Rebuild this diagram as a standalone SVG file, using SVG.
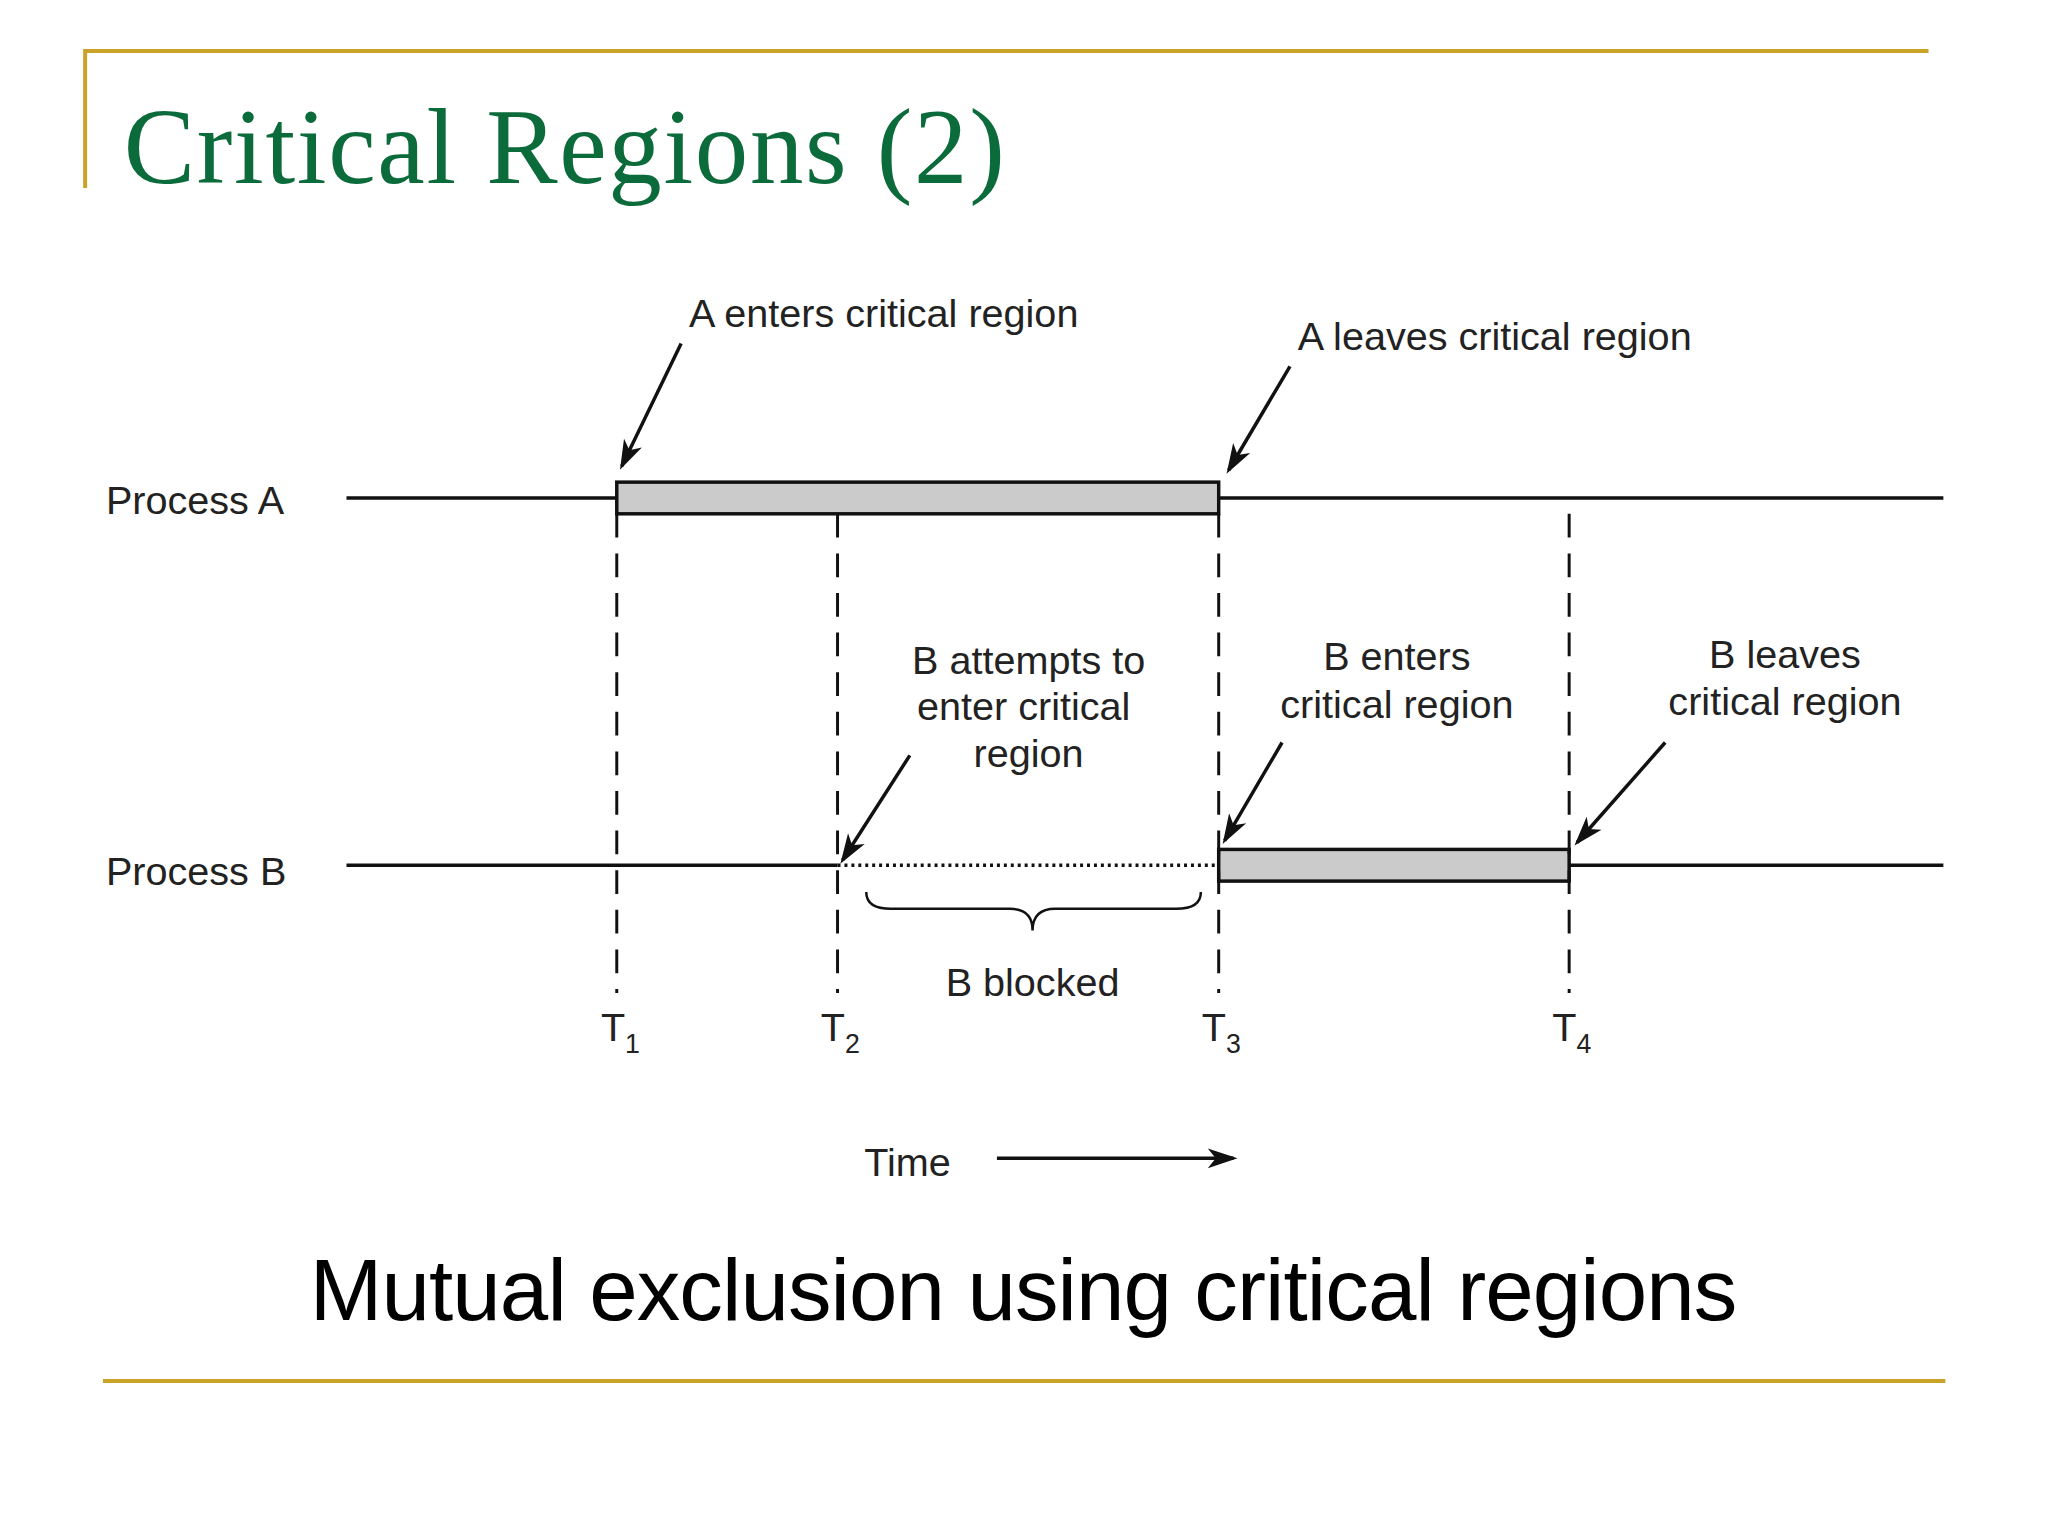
<svg xmlns="http://www.w3.org/2000/svg" width="2048" height="1536" viewBox="0 0 2048 1536">
<style>
.l{font-family:"Liberation Sans",Arial,sans-serif;font-size:40px;fill:#222}
.m{text-anchor:middle}
.ln{stroke:#111;stroke-width:3.5;fill:none}
.d{stroke:#111;stroke-width:3;stroke-dasharray:24 16;fill:none}
.bar{fill:#cbcbcb;stroke:#111;stroke-width:3.5}
.g{stroke:#c9a227;stroke-width:4;fill:none}
</style>
<defs>
<marker id="ah" markerWidth="40" markerHeight="40" refX="0" refY="0" markerUnits="userSpaceOnUse" orient="auto" style="overflow:visible">
<path d="M4,0 L-26,-10 L-18,0 L-26,10 Z" fill="#111"/>
</marker>
</defs>
<rect width="2048" height="1536" fill="#fff"/>
<g transform="scale(0.99)">
<g id="frame">
<path class="g" d="M84,51.5 H1948 M86,51 V190 M104,1395 H1965"/>
<text x="125" y="185" font-family="Liberation Serif,serif" font-size="108" fill="#0b6b3a" textLength="890">Critical Regions (2)</text>
<text x="313" y="1333" font-family="Liberation Sans,Arial,sans-serif" font-size="88" fill="#000" textLength="1442">Mutual exclusion using critical regions</text>
</g>
<g id="processA">
<text class="l" x="107" y="519">Process A</text>
<path class="ln" d="M350,503 H623 M1231,503 H1963"/>
<rect class="bar" x="623" y="487" width="608" height="32"/>
</g>
<g id="processB">
<text class="l" x="107" y="894">Process B</text>
<path class="ln" d="M350,874 H846 M1585,874 H1963"/>
<path d="M846,874 H1231" stroke="#111" stroke-width="3.5" stroke-dasharray="3 4"/>
<rect class="bar" x="1231" y="858" width="354" height="32"/>
</g>
<g id="timeline">
<path class="d" d="M623,519 V1003 M846,519 V1003 M1231,519 V1003 M1585,519 V1003"/>
<text class="l" x="607" y="1052">T<tspan font-size="27" dy="12">1</tspan></text>
<text class="l" x="829" y="1052">T<tspan font-size="27" dy="12">2</tspan></text>
<text class="l" x="1214" y="1052">T<tspan font-size="27" dy="12">3</tspan></text>
<text class="l" x="1568" y="1052">T<tspan font-size="27" dy="12">4</tspan></text>
<text class="l" x="873" y="1188">Time</text>
</g>
<g id="labels">
<text class="l" x="696" y="330">A enters critical region</text>
<text class="l" x="1311" y="354">A leaves critical region</text>
<text class="l m" x="1039" y="681">B attempts to</text>
<text class="l m" x="1034" y="727">enter critical</text>
<text class="l m" x="1039" y="775">region</text>
<text class="l m" x="1411" y="677">B enters</text>
<text class="l m" x="1411" y="725">critical region</text>
<text class="l m" x="1803" y="675">B leaves</text>
<text class="l m" x="1803" y="722">critical region</text>
<text class="l m" x="1043" y="1006">B blocked</text>
</g>
<g id="connectors">
<path class="ln" marker-end="url(#ah)" d="M688,347 L628,471"/>
<path class="ln" marker-end="url(#ah)" d="M1303,370 L1241,475"/>
<path class="ln" marker-end="url(#ah)" d="M919,763 L851,869"/>
<path class="ln" marker-end="url(#ah)" d="M1295,750 L1237,849"/>
<path class="ln" marker-end="url(#ah)" d="M1682,750 L1593,851"/>
<path class="ln" marker-end="url(#ah)" d="M1007,1170 L1246,1170"/>
<path stroke="#111" stroke-width="2.5" fill="none" d="M875,901 Q875,918 900,918 L1020,918 Q1043,918 1043,940 Q1043,918 1066,918 L1188,918 Q1213,918 1213,901"/>
</g>
</g>
</svg>
